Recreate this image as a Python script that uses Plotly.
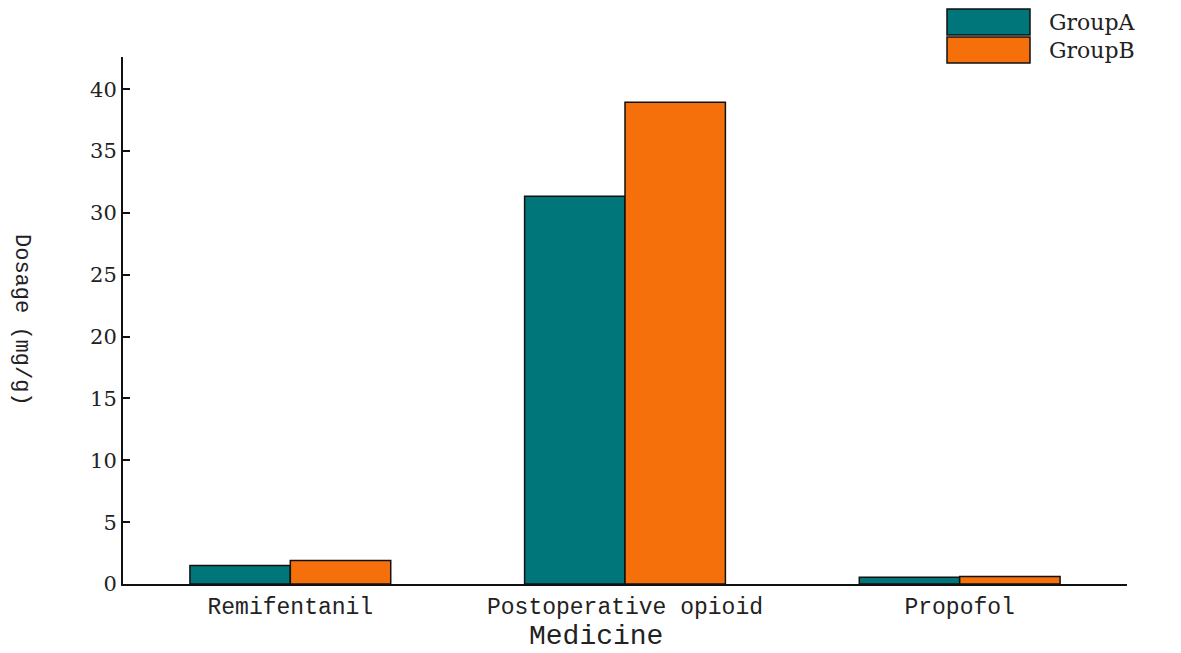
import plotly.graph_objects as go

categories = ["Remifentanil", "Postoperative opioid", "Propofol"]
group_a = [1.5, 31.35, 0.55]
group_b = [1.9, 38.95, 0.6]
series_names = ["GroupA", "GroupB"]
colors = ["#00767A", "#F5700A"]
y_ticks = [0, 5, 10, 15, 20, 25, 30, 35, 40]
y_title = "Dosage (mg/g)"
x_title = "Medicine"

fig = go.Figure()
for name, vals, col in zip(series_names, [group_a, group_b], colors):
    fig.add_trace(go.Bar(x=categories, y=vals, name=name,
                         marker=dict(color=col, line=dict(color="#111", width=1.5)),
                         showlegend=False))

W, H = 1181, 653
OFF = 8  # page body offset
# plot area in page pixel coords
PL, PR, PT, PB = 123, 1127, 57, 584
L = PL - OFF
R = W - (PR - OFF)
T = PT - OFF
B = H - (PB - OFF)
pw, ph = PR - PL, PB - PT

def px(x):
    return (x - PL) / pw

def py(y):
    return (PB - y) / ph

shapes = []
annotations = []
for i, (name, col) in enumerate(zip(series_names, colors)):
    y0 = 9 + i * 28
    shapes.append(dict(type="rect", xref="paper", yref="paper", x0=px(947), x1=px(1030),
                       y0=py(y0 + 26), y1=py(y0),
                       fillcolor=col, line=dict(color="#111", width=1.5)))
    annotations.append(dict(xref="paper", yref="paper", x=px(1047), y=py(y0 + 13), text=name,
                            showarrow=False, xanchor="left", yanchor="middle",
                            font=dict(family="DejaVu Serif", size=22, color="#222")))

annotations.append(dict(xref="paper", yref="paper", x=px(22), y=py(320), text=y_title, textangle=90,
                        showarrow=False, xanchor="center", yanchor="middle",
                        font=dict(family="Liberation Mono", size=22, color="#222")))
annotations.append(dict(xref="paper", yref="paper", x=px(596), y=py(636), text=x_title,
                        showarrow=False, xanchor="center", yanchor="middle",
                        font=dict(family="Liberation Mono", size=28, color="#222")))

fig.update_layout(
    width=W, height=H,
    margin=dict(l=L, r=R, t=T, b=B),
    plot_bgcolor="white", paper_bgcolor="white",
    barmode="group", bargap=0.4, bargroupgap=0,
    shapes=shapes, annotations=annotations,
    xaxis=dict(showline=True, linecolor="#111", linewidth=2, ticks="", range=[-0.5, 2.5],
               tickfont=dict(family="Liberation Mono", size=23, color="#222")),
    yaxis=dict(showline=True, linecolor="#111", linewidth=2, ticks="inside", ticklen=7,
               tickwidth=1.5, tickcolor="#111",
               range=[0, 42.6], tickvals=y_ticks, showgrid=False, zeroline=False,
               tickfont=dict(family="DejaVu Serif", size=21, color="#222")),
)
fig.write_html("out.html")
